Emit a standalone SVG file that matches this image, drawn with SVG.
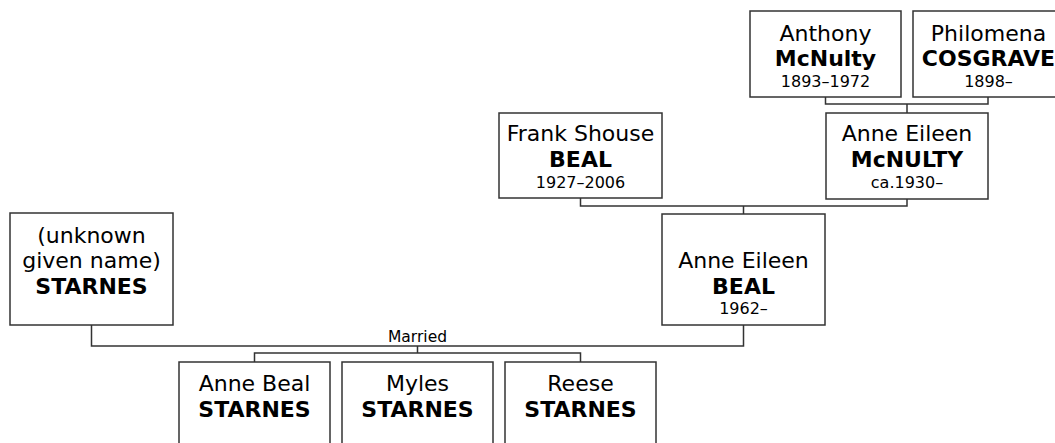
<svg xmlns="http://www.w3.org/2000/svg" width="1055" height="443" viewBox="0 0 1055 443">
<style>
.box{fill:#fff;stroke:#333;stroke-width:1.5}
.ln{fill:none;stroke:#333;stroke-width:1.5}
text{font-family:"DejaVu Sans","Verdana",sans-serif;fill:#000;text-anchor:middle}
.n{font-size:22px}
.b{font-size:22px;font-weight:bold}
.d{font-size:16px}
.lbl{font-size:15.5px}
</style>
<rect width="1055" height="443" fill="#fff"/>
<g id="connectors">
<path class="ln" d="M825.5,97 V104 H988 V97 M907,104 V113"/>
<path class="ln" d="M907,199 V206 H580.5 V198 M743.5,206 V214"/>
<path class="ln" d="M91.5,325 V346 H743.5 V325"/>
<path class="ln" d="M417.5,346 V353 M254.5,362 V353 H580.5 V362"/>
<text class="lbl" x="417.5" y="342">Married</text>
</g>
<g id="anthony">
<rect class="box" x="750" y="11" width="151" height="86"/>
<text class="n" x="825.5" y="41">Anthony</text>
<text class="b" x="825.5" y="66">McNulty</text>
<text class="d" x="825.5" y="87">1893–1972</text>
</g>
<g id="philomena">
<rect class="box" x="913" y="11" width="151" height="86"/>
<text class="n" x="988.5" y="41">Philomena</text>
<text class="b" x="988.5" y="66">COSGRAVE</text>
<text class="d" x="988.5" y="87">1898–</text>
</g>
<g id="anne-mcnulty">
<rect class="box" x="826" y="113" width="162" height="86"/>
<text class="n" x="907" y="141">Anne Eileen</text>
<text class="b" x="907" y="167">McNULTY</text>
<text class="d" x="907" y="188">ca.1930–</text>
</g>
<g id="frank">
<rect class="box" x="499" y="113" width="163" height="85"/>
<text class="n" x="580.5" y="141">Frank Shouse</text>
<text class="b" x="580.5" y="167">BEAL</text>
<text class="d" x="580.5" y="188">1927–2006</text>
</g>
<g id="anne-beal">
<rect class="box" x="662" y="214" width="163" height="111"/>
<text class="n" x="743.5" y="268">Anne Eileen</text>
<text class="b" x="743.5" y="294">BEAL</text>
<text class="d" x="743.5" y="314">1962–</text>
</g>
<g id="starnes">
<rect class="box" x="10" y="213" width="163" height="112"/>
<text class="n" x="91.5" y="243">(unknown</text>
<text class="n" x="91.5" y="268">given name)</text>
<text class="b" x="91.5" y="294">STARNES</text>
</g>
<g id="child-anne">
<rect class="box" x="179" y="362" width="151" height="111"/>
<text class="n" x="254.5" y="391">Anne Beal</text>
<text class="b" x="254.5" y="417">STARNES</text>
</g>
<g id="child-myles">
<rect class="box" x="342" y="362" width="151" height="111"/>
<text class="n" x="417.5" y="391">Myles</text>
<text class="b" x="417.5" y="417">STARNES</text>
</g>
<g id="child-reese">
<rect class="box" x="505" y="362" width="151" height="111"/>
<text class="n" x="580.5" y="391">Reese</text>
<text class="b" x="580.5" y="417">STARNES</text>
</g>
</svg>
